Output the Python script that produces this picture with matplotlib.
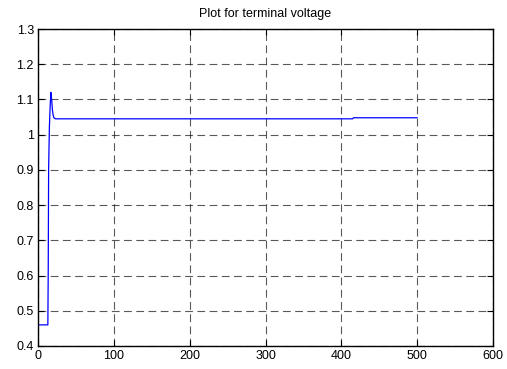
import numpy as np
import matplotlib.pyplot as plt

plt.rcParams['font.family'] = ['Liberation Sans', 'DejaVu Sans']

# terminal voltage response (time steps, per unit)
t = [0, 13, 13.5, 14, 15, 16, 17, 18, 19, 20, 21, 23, 415, 416, 500]
v = [0.46, 0.46, 0.62, 0.90, 1.02, 1.08, 1.12, 1.10, 1.07, 1.055, 1.048, 1.045, 1.045, 1.048, 1.048]

xticks = [0, 100, 200, 300, 400, 500, 600]
yticks = [0.4, 0.5, 0.6, 0.7, 0.8, 0.9, 1.0, 1.1, 1.2, 1.3]
ylabels = ['0.4', '0.5', '0.6', '0.7', '0.8', '0.9', '1', '1.1', '1.2', '1.3']

fig = plt.figure(figsize=(5.07, 3.69), dpi=100)
ax = fig.add_axes([38 / 507, 1 - 346 / 369, 455 / 507, 317 / 369])
ax.plot(t, v, color='#0000ff', lw=0.9)

ax.set_xlim(0, 600)
ax.set_ylim(0.4, 1.3)
ax.set_xticks(xticks)
ax.set_yticks(yticks)
ax.set_yticklabels(ylabels)
ax.tick_params(direction='in', labelsize=9, length=4, width=0.8, top=True, right=True, pad=3)
ax.grid(True, color='black', linestyle=(0, (7, 4)), lw=0.8, alpha=0.65)
for s in ax.spines.values():
    s.set_linewidth(1.0)
ax.set_title('Plot for terminal voltage', fontsize=9, pad=9)

fig.savefig('out.png', dpi=100)
